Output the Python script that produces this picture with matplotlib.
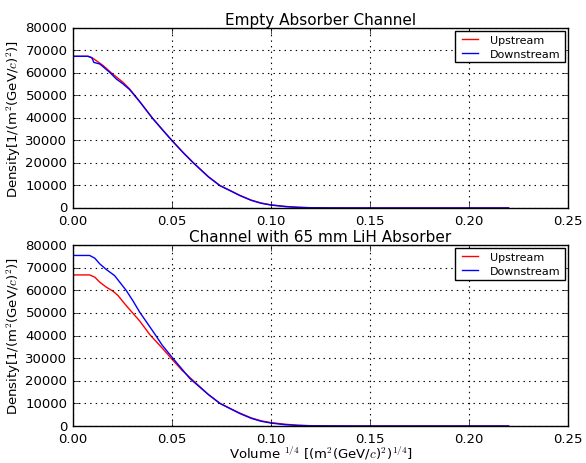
import matplotlib
matplotlib.use("Agg")
import matplotlib.pyplot as plt

plt.style.use("classic")
plt.rcParams["mathtext.fontset"] = "cm"
plt.rcParams["font.family"] = ["DejaVu Sans"]

# ---- data ----
x_top_up = [0, 0.0076, 0.0101, 0.0152, 0.0194, 0.0253, 0.0286, 0.0337, 0.0401, 0.045,
            0.050, 0.0556, 0.0608, 0.0684, 0.0742, 0.080, 0.0843, 0.090, 0.095, 0.100, 0.107,
            0.1135, 0.120, 0.130, 0.150, 0.220]
y_top_up = [67400, 67400, 66500, 63300, 60000, 55800, 52900, 47300, 40000, 35000,
            30000, 24700, 20100, 13900, 10000, 7500, 5600, 3500, 2200, 1400, 700,
            300, 120, 30, 0, 0]
x_top_dn = [0, 0.0076, 0.0095, 0.0105, 0.0135, 0.0185, 0.0219, 0.0253, 0.0286, 0.0337,
            0.0401, 0.045, 0.050, 0.0556, 0.0608, 0.0684, 0.0742, 0.080, 0.0843, 0.090,
            0.095, 0.100, 0.107, 0.1135, 0.120, 0.130, 0.150, 0.220]
y_top_dn = [67400, 67400, 66800, 64700, 64000, 60300, 57300, 55100, 52600, 47200,
            39900, 34900, 29900, 24600, 20000, 13800, 9900, 7400, 5500, 3400,
            2100, 1300, 650, 280, 100, 25, 0, 0]

x_bot_up = [0, 0.0084, 0.011, 0.0135, 0.0168, 0.0202, 0.0227, 0.0269, 0.0337, 0.0389, 0.045,
            0.050, 0.055, 0.0608, 0.0684, 0.0742, 0.080, 0.0843, 0.090, 0.095, 0.100, 0.107,
            0.1135, 0.120, 0.130, 0.150, 0.220]
y_bot_up = [66800, 66800, 65800, 63600, 61400, 59600, 57700, 53200, 46400, 40300, 34500,
            29500, 24700, 20000, 13900, 10000, 7500, 5700, 3600, 2300, 1500, 800,
            350, 150, 40, 0, 0]
x_bot_dn = [0, 0.0084, 0.011, 0.0135, 0.0168, 0.021, 0.0236, 0.0269, 0.0303, 0.0337, 0.0379,
            0.0412, 0.045, 0.050, 0.055, 0.059, 0.0684, 0.0742, 0.080, 0.0843, 0.090, 0.095,
            0.100, 0.107, 0.1135, 0.120, 0.130, 0.150, 0.220]
y_bot_dn = [75400, 75400, 74200, 71700, 69200, 66500, 63600, 59900, 55300, 50300, 45000,
            40800, 35800, 30400, 25200, 21000, 13900, 10000, 7400, 5500, 3400, 2100,
            1300, 600, 250, 100, 30, 0, 0]

labels = ["Upstream", "Downstream"]
titles = ["Empty Absorber Channel", "Channel with 65 mm LiH Absorber"]
ylabel = r"Density[1/(m$^2$(GeV/$c$)$^2$)]"
xlabel = r"Volume $^{1/4}$ [(m$^2$(GeV/$c$)$^2$)$^{1/4}$]"

fig = plt.figure(figsize=(5.86, 4.64), dpi=100, facecolor="white")
ax1 = fig.add_axes([0.1246, 0.5496, 0.8447, 0.388])
ax2 = fig.add_axes([0.1246, 0.0797, 0.8447, 0.390])

for ax, (xu, yu, xd, yd), title in zip(
        [ax1, ax2],
        [(x_top_up, y_top_up, x_top_dn, y_top_dn), (x_bot_up, y_bot_up, x_bot_dn, y_bot_dn)],
        titles):
    ax.plot(xu, yu, color="red", lw=1.0, label=labels[0])
    ax.plot(xd, yd, color="blue", lw=1.0, label=labels[1])
    ax.set_xlim(0, 0.25)
    ax.set_ylim(0, 80000)
    ax.set_xticks([0, 0.05, 0.10, 0.15, 0.20, 0.25])
    ax.set_xticklabels(["0.00", "0.05", "0.10", "0.15", "0.20", "0.25"])
    ax.set_yticks(range(0, 80001, 10000))
    ax.grid(True, color="k", linestyle=":", linewidth=0.8)
    ax.tick_params(labelsize=9.5, direction="in", top=True, right=True, length=4)
    ax.set_title(title, fontsize=11, pad=3)
    ax.set_ylabel(ylabel, fontsize=9.5, labelpad=2)
    leg = ax.legend(loc="upper right", fontsize=8, frameon=True, fancybox=False,
                    handlelength=2.0, borderaxespad=0.3, borderpad=0.35, labelspacing=0.3)
    leg.get_frame().set_edgecolor("black")

ax2.set_xlabel(xlabel, fontsize=9.5, labelpad=-1)

fig.savefig("out.png", dpi=100, facecolor="white")
